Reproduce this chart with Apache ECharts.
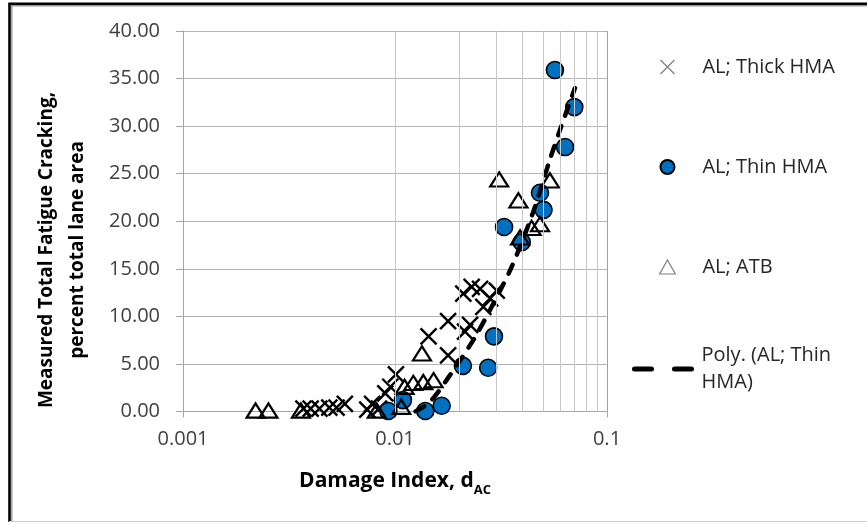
<!DOCTYPE html>
<html>
<head>
<meta charset="utf-8">
<script src="https://cdn.jsdelivr.net/npm/echarts@6/dist/echarts.min.js"></script>
<style>
  html, body { margin: 0; padding: 0; background: #fff; }
  #chart { width: 867px; height: 522px; }
</style>
</head>
<body>
<div id="chart"></div>
<script>
// values
var thickX = [0.0037, 0.0040, 0.0044, 0.0049, 0.0053, 0.0058, 0.0074, 0.0078, 0.0084, 0.0090, 0.0095, 0.0101,
              0.0144, 0.0178, 0.0178, 0.0210, 0.0214, 0.0226, 0.0230, 0.0252, 0.0261, 0.0281, 0.0302];
var thickY = [0.3, 0.3, 0.3, 0.4, 0.4, 0.8, 0.2, 0.8, 0.3, 1.9, 2.6, 3.9,
              7.9, 9.5, 5.9, 12.4, 8.4, 9.1, 13.1, 12.9, 11.0, 11.9, 12.7];

var thinX = [0.0093, 0.0109, 0.0139, 0.0166, 0.0209, 0.0275, 0.0293, 0.0327, 0.0396, 0.0483, 0.0502, 0.0568, 0.0634, 0.0701];
var thinY = [0.05, 1.2, 0.05, 0.6, 4.8, 4.6, 7.9, 19.4, 17.8, 23.0, 21.2, 35.9, 27.8, 32.0];

var atbX = [0.0022, 0.00253, 0.0036, 0.0082, 0.0107, 0.0111, 0.0122, 0.0136, 0.0152, 0.0134,
            0.0310, 0.0382, 0.0389, 0.0441, 0.0483, 0.0538];
var atbY = [0.1, 0.1, 0.1, 0.1, 0.5, 2.6, 3.0, 3.1, 3.3, 6.1,
            24.4, 22.2, 18.3, 19.3, 19.7, 24.3];

// polynomial trendline, points
var trendX = [0.0125, 0.0146, 0.0175, 0.0234, 0.0281, 0.0355, 0.0449, 0.0538, 0.0600, 0.0706];
var trendY = [0.0, 1.0, 3.3, 7.5, 10.7, 15.2, 21.0, 26.5, 29.6, 34.0];

var xTickLabels = ['0.001', '0.01', '0.1'];
var minorGridX = [0.002, 0.003, 0.004, 0.005, 0.006, 0.007, 0.008, 0.009,
                  0.02, 0.03, 0.04, 0.05, 0.06, 0.07, 0.08, 0.09];

var seriesNames = ['AL; Thick HMA', 'AL; Thin HMA', 'AL; ATB', 'Poly. (AL; Thin HMA)'];

function zip(xs, ys) {
  return xs.map(function (x, i) { return [x, ys[i]]; });
}

var font = 'Open Sans';
var myChart = echarts.init(document.getElementById('chart'));
myChart.setOption({
  animation: false,
  backgroundColor: '#fff',
  grid: { left: 183, right: 260, top: 31, bottom: 110.5 },
  legend: [
    {
      data: [
        { name: seriesNames[0], itemStyle: { borderColor: '#7f7f7f', borderWidth: 1.2 } },
        { name: seriesNames[1] },
        { name: seriesNames[2], itemStyle: { borderColor: '#7f7f7f', borderWidth: 1.2 } }
      ],
      orient: 'vertical',
      left: 659, top: 55,
      padding: 0,
      itemWidth: 60, itemHeight: 14, itemGap: 76,
      symbolKeepAspect: true,
      textStyle: { fontFamily: font, fontSize: 20, lineHeight: 24, color: '#262626' }
    },
    {
      data: [{
        name: seriesNames[3],
        itemStyle: { color: 'transparent', borderColor: 'transparent', borderWidth: 0 }
      }],
      orient: 'vertical',
      left: 632, top: 328.5,
      padding: 0,
      itemWidth: 62, itemHeight: 14,
      lineStyle: { color: '#000', width: 5, type: [17, 23], cap: 'round' },
      formatter: function () { return 'Poly. (AL; Thin\nHMA)'; },
      textStyle: { fontFamily: font, fontSize: 20, lineHeight: 27, color: '#262626', padding: [27, 0, 0, 0] }
    }
  ],
  xAxis: {
    type: 'log',
    logBase: 10,
    min: 0.001,
    max: 0.1,
    name: '{t|Damage Index, d}{s|AC}',
    nameLocation: 'middle',
    nameGap: 55,
    nameTextStyle: {
      rich: {
        t: { fontFamily: font, fontSize: 21, fontWeight: 'bold', color: '#000', lineHeight: 30, verticalAlign: 'middle' },
        s: { fontFamily: font, fontSize: 13, fontWeight: 'bold', color: '#000', lineHeight: 30, verticalAlign: 'bottom' }
      }
    },
    axisLine: { show: true, lineStyle: { color: '#a6a6a6', width: 1 } },
    axisTick: { show: true, length: 6, lineStyle: { color: '#a6a6a6' } },
    axisLabel: {
      margin: 18,
      fontFamily: font, fontSize: 20, color: '#404040',
      formatter: function (v) { return xTickLabels[Math.round(Math.log10(v)) + 3]; }
    },
    splitLine: { show: true, lineStyle: { color: '#a0a0a0', width: 1 } }
  },
  yAxis: {
    type: 'value',
    min: 0, max: 40, interval: 5,
    axisLine: { show: true, lineStyle: { color: '#a6a6a6', width: 1 } },
    axisTick: { show: true, length: 7, lineStyle: { color: '#a6a6a6' } },
    axisLabel: {
      margin: 23,
      fontFamily: font, fontSize: 20, color: '#404040',
      formatter: function (v) { return v.toFixed(2); }
    },
    splitLine: { show: true, lineStyle: { color: '#b4b4b4', width: 1 } }
  },
  graphic: [
    {
      type: 'text',
      x: 62, y: 250,
      rotation: Math.PI / 2,
      style: {
        text: 'Measured Total Fatigue Cracking,\npercent total lane area',
        font: 'bold 19px "Open Sans"',
        lineHeight: 31,
        fill: '#000',
        align: 'center',
        verticalAlign: 'middle'
      }
    },
    { type: 'polyline', shape: { points: [[9.5, 522], [9.5, 3.8], [867, 3.8]] }, style: { stroke: '#000', lineWidth: 2.6, fill: null } },
    { type: 'polyline', shape: { points: [[11.8, 522], [11.8, 5.8], [867, 5.8]] }, style: { stroke: '#9a9a9a', lineWidth: 1.4, fill: null } },
    { type: 'line', shape: { x1: 9, y1: 521.5, x2: 867, y2: 521.5 }, style: { stroke: '#cfcfcf', lineWidth: 1 } }
  ],
  series: [
    {
      type: 'line',
      z: 1,
      silent: true,
      data: [],
      markLine: {
        silent: true,
        symbol: ['none', 'none'],
        label: { show: false },
        lineStyle: { color: '#c8c8c8', type: 'solid', width: 1 },
        data: minorGridX.map(function (v) { return { xAxis: v }; })
      }
    },
    {
      name: seriesNames[0],
      type: 'scatter',
      clip: false,
      symbol: 'path://M0,0L10,10M10,0L0,10',
      symbolSize: 16,
      symbolKeepAspect: true,
      itemStyle: { color: 'transparent', borderColor: '#000', borderWidth: 2.4, opacity: 1 },
      data: zip(thickX, thickY)
    },
    {
      name: seriesNames[1],
      type: 'scatter',
      clip: false,
      symbol: 'circle',
      symbolSize: 17,
      itemStyle: { color: '#0070C0', borderColor: '#000', borderWidth: 1.6, opacity: 1 },
      data: zip(thinX, thinY)
    },
    {
      name: seriesNames[2],
      type: 'scatter',
      clip: false,
      symbol: 'path://M9,0L18,16L0,16Z',
      symbolSize: [18, 16],
      symbolKeepAspect: true,
      itemStyle: { color: 'transparent', borderColor: '#000', borderWidth: 2.2, opacity: 1 },
      data: zip(atbX, atbY)
    },
    {
      name: seriesNames[3],
      type: 'line',
      smooth: 0.3,
      symbol: 'none',
      color: '#000',
      lineStyle: { color: '#000', width: 4.5, type: [10, 11], cap: 'round' },
      data: zip(trendX, trendY)
    }
  ]
});
</script>
</body>
</html>
